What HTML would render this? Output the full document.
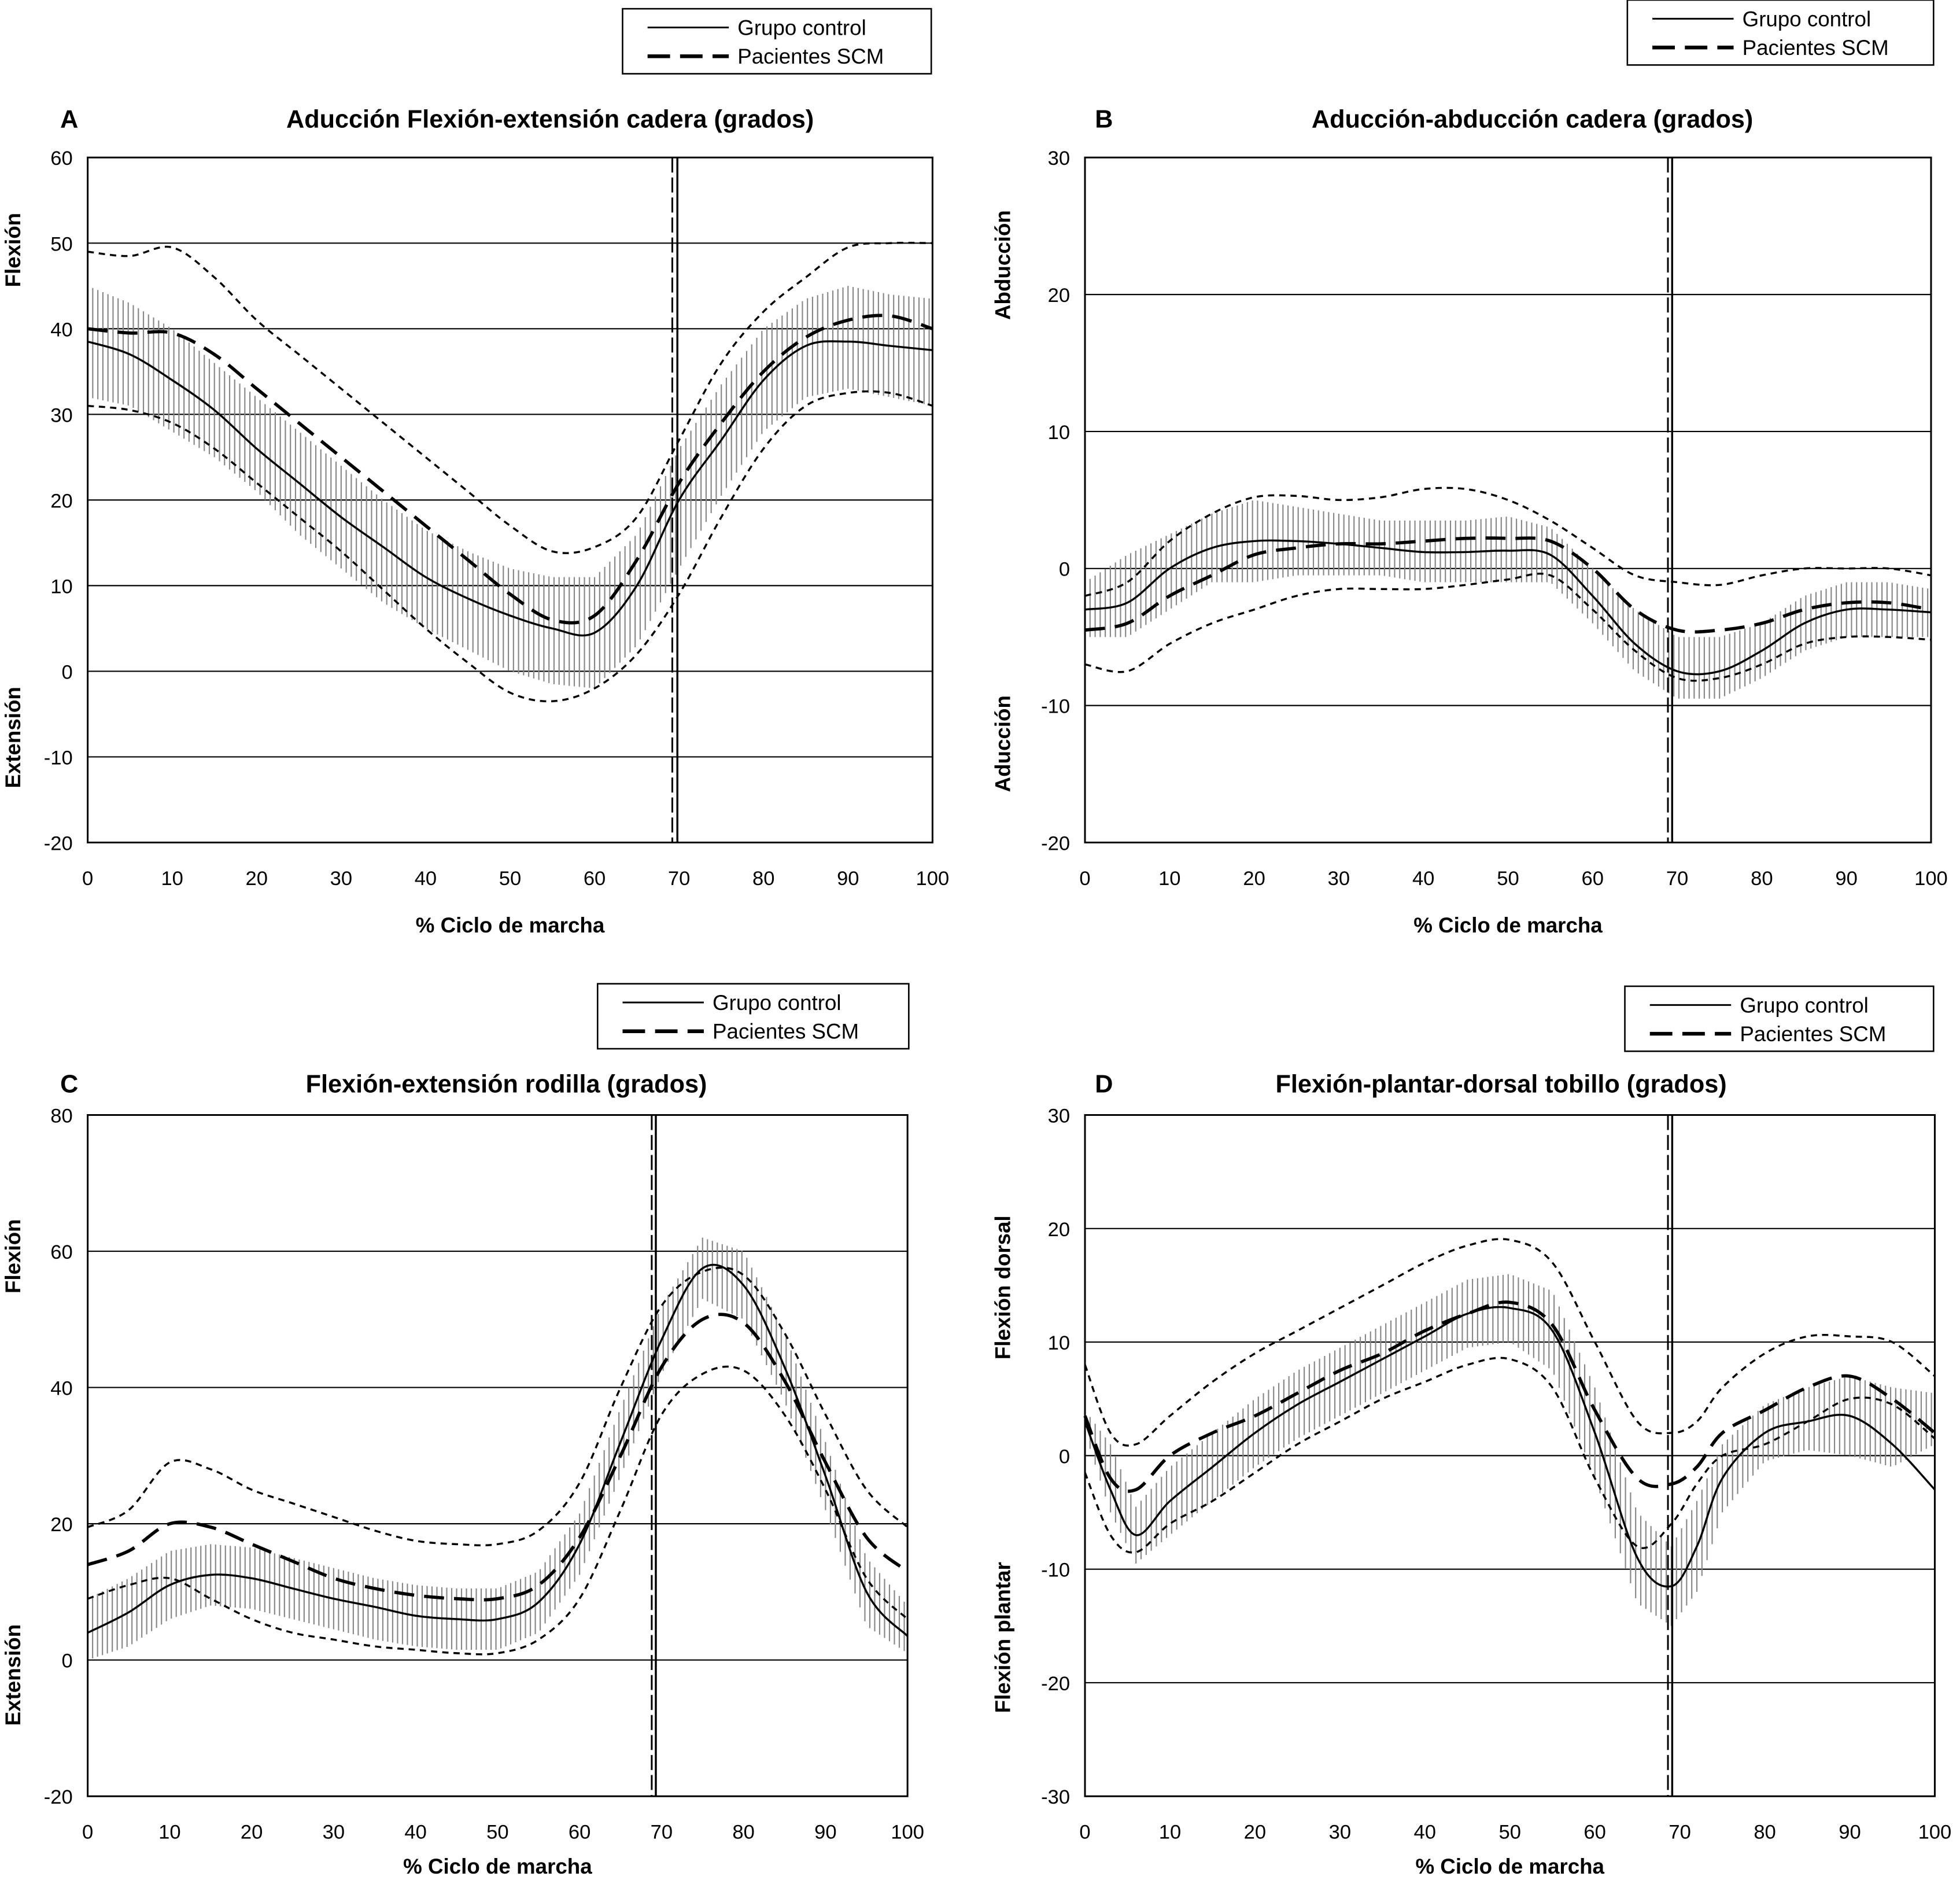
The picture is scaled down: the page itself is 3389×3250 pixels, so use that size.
<!DOCTYPE html>
<html><head><meta charset="utf-8"><style>
html,body{margin:0;padding:0;background:#fff}
svg{display:block}
text{font-family:"Liberation Sans",Arial,sans-serif;fill:#000}
</style></head><body>
<svg id="fig" xmlns="http://www.w3.org/2000/svg" width="3389" height="3250" viewBox="0 0 1568 1504"></svg>
<script>
// ---------- Panel A data ----------
const xsA = [0,5,10,15,20,25,30,35,40,45,50,55,60,65,70,75,80,85,90,95,100];
const ctrlA = [38.5,37,34,30.5,26,22,18,14.5,11,8.5,6.5,5,4.5,10,20,27,34,38,38.5,38,37.5];
const bandHiA = [45,43,40,36,32,28,24,20,16.5,14,12,11,11,16,26,33.5,40,43.5,45,44,43.5];
const bandLoA = [32,31,28,25,21,16,12,8,5,2.5,0,-1.5,-2,3,12,20.5,28,32,33,32,31];
const patA = [40,39.5,39.5,37,33,29,25,21,17,13,9,6,6.5,13,22,29,35,39,41,41.5,40];
const patHiA = [49,48.5,49.5,46,41,37,33,29,25,21,17,14,14.5,18,27,36,42,46,49.5,50,50];
const patLoA = [31,30.5,29,26,22,18,14,9.5,5,1,-2.5,-3.5,-2,2,9,18,26,31,32.5,32.5,31];
const yTicksA = [-20,-10,0,10,20,30,40,50,60];
// ---------- Panel B data ----------
const xsB = [0,5,10,15,20,25,30,35,40,45,50,55,60,65,70,75,80,85,90,95,100];
const ctrlB = [-3,-2.5,0,1.5,2,2,1.8,1.5,1.2,1.2,1.3,1,-2,-5.5,-7.5,-7.5,-6,-4,-3,-3,-3.2];
const bandHiB = [-1,1,2.5,4,5,4.5,4,3.5,3.5,3.5,3.8,3,0,-3,-5,-5,-4,-2,-1,-1,-1.5];
const bandLoB = [-5,-5,-3,-1,-1,-0.5,-0.5,-0.5,-1,-1,-1,-1,-4,-7.5,-9.5,-9.5,-8,-6,-5,-5,-5];
const patB = [-4.5,-4,-2,-0.5,1,1.5,1.8,1.8,2,2.2,2.2,2,0,-3,-4.5,-4.5,-4,-3,-2.5,-2.5,-3];
const patHiB = [-2,-1,2,4,5.2,5.3,5,5.2,5.8,5.8,5,3.5,1.5,-0.5,-1,-1.2,-0.5,0,0,0,-0.5];
const patLoB = [-7,-7.5,-5.5,-4,-3,-2,-1.5,-1.5,-1.5,-1.2,-0.8,-0.5,-3,-6,-8,-8,-7,-5.5,-5,-5,-5.2];
const yTicksB = [-20,-10,0,10,20,30];
// ---------- Panel C data ----------
const xsC = [0,5,10,15,20,25,30,35,40,45,50,55,60,65,70,75,80,85,90,95,100];
const ctrlC = [4,7,11,12.5,12,10.5,9,7.8,6.5,6,6,8.5,17,32,47,57.5,55,43,27,10,3.5];
const bandHiC = [9,12,16,17,16.5,15,13.5,12,11,10.5,10.5,13,21.5,37,52,62,60,48,32,15,8];
const bandLoC = [0,2,6,8,7.5,6,4.5,3,2,1.5,1.5,4,12.5,27,42,53,50,38,22,5,1];
const patC = [14,16,20,19.5,17,14.5,12,10.5,9.5,9,9,11,18,30,43,50,49.5,41,29,18,13];
const patHiC = [19.5,22,29,28,25,23,21,19,17.5,17,17,19,26,40,52,57,56.5,48,36,25,19.5];
const patLoC = [9,11,12,9,6,4,3,2,1.5,1,1,3,9,22,36,42,42.5,36,25,12,6];
const yTicksC = [-20,0,20,40,60,80];
// ---------- Panel D data ----------
const xsD = [0,3,6,10,15,20,25,30,35,40,45,50,55,60,65,69,72,75,80,85,90,95,100];
const ctrlD = [3,-3,-7,-4,-1,2,4.5,6.5,8.5,10.5,12.5,13,11,2,-9,-11.5,-8,-2,2,3,3.5,1,-3];
const bandHiD = [4,1,-4.5,-1,2,5,7.5,9.5,11.5,13.5,15.5,16,14.5,6,-5,-8,-4,1,4.5,6,7,6,5.5];
const bandLoD = [2,-5,-9.5,-7,-4,-1,1.5,3.5,5.5,7.5,9.5,10,7.5,-2,-13,-15,-12,-5,-0.5,0.5,0,-1,1];
const patD = [3.5,-2,-3,0,2,3.5,5.5,7.5,9,11,12.5,13.5,11.5,4,-2,-2.5,-1,2,4,6,7,5,2];
const patHiD = [8,2,1,3.5,6.5,9,11,13,15,17,18.5,19,17,10,3,2,3,6,9,10.5,10.5,10,7];
const patLoD = [-1.5,-7,-8.5,-6,-4,-1.5,1,3,5,6.5,8,8.5,6,-2,-8,-6,-2.5,0,1,3,5,4.5,1.5];
const yTicksD = [-30,-20,-10,0,10,20,30];
const xTicks = [0,10,20,30,40,50,60,70,80,90,100];

const NS = "http://www.w3.org/2000/svg";
const svg = document.getElementById('fig');
function mk(tag, attrs, parent, txt){
  const e = document.createElementNS(NS, tag);
  for (const k in attrs) e.setAttribute(k, attrs[k]);
  if (txt !== undefined) e.textContent = txt;
  (parent || svg).appendChild(e);
  return e;
}
function interp(xs, ys, x){
  for (let i=0;i<xs.length-1;i++){
    if (x>=xs[i] && x<=xs[i+1]){ const t=(x-xs[i])/(xs[i+1]-xs[i]); return ys[i]+t*(ys[i+1]-ys[i]); }
  }
  return ys[ys.length-1];
}
function smoothPath(pts){
  let d = `M${pts[0][0]},${pts[0][1]}`;
  for (let i=0;i<pts.length-1;i++){
    const p0=pts[Math.max(0,i-1)], p1=pts[i], p2=pts[i+1], p3=pts[Math.min(pts.length-1,i+2)];
    const c1=[p1[0]+(p2[0]-p0[0])/6, p1[1]+(p2[1]-p0[1])/6];
    const c2=[p2[0]-(p3[0]-p1[0])/6, p2[1]-(p3[1]-p1[1])/6];
    d += ` C${c1[0]},${c1[1]} ${c2[0]},${c2[1]} ${p2[0]},${p2[1]}`;
  }
  return d;
}
function panel(cfg){
  const g = mk('g', {});
  
  
  const {x0,x1,yTop,yBot,ymin,ymax} = cfg;
  const sx = v => x0 + (x1-x0)*v/100;
  const sy = v => yBot - (yBot-yTop)*(v-ymin)/(ymax-ymin);
  cfg.yTicks.forEach(t=>{
    const gl = mk('line',{x1:x0,x2:x1,y1:sy(t),y2:sy(t),stroke:'#000','stroke-width':1},g);
    
    
    const tl = mk('text',{x:x0-12,y:sy(t)+6,'text-anchor':'end','font-size':16},g,String(t));
    
    
  });
  xTicks.forEach(t=>{
    const tl = mk('text',{x:sx(t),y:yBot+cfg.tickOff,'text-anchor':'middle','font-size':16},g,String(t));
    
    
  });
  const hatch = mk('g',{stroke:'#888','stroke-width':1},g);
  
  
  for (let v=0; v<=100.001; v+=0.6){
    mk('line',{x1:sx(v),x2:sx(v),y1:sy(interp(cfg.xs,cfg.bandHi,v)),y2:sy(interp(cfg.xs,cfg.bandLo,v))},hatch);
  }
  const pts = arr => cfg.xs.map((x,i)=>[sx(x), sy(arr[i])]);
  const lines = [
    ['patient-sd-upper', cfg.patHi, '5,4', 1.6],
    ['patient-sd-lower', cfg.patLo, '5,4', 1.6],
    ['control-mean-line', cfg.ctrl, null, 1.6],
    ['patient-mean-line', cfg.pat, '16,8', 2.6],
  ];
  lines.forEach(([n,arr,dash,w])=>{
    const a = {d:smoothPath(pts(arr)),fill:'none',stroke:'#000','stroke-width':w};
    if (dash) a['stroke-dasharray']=dash;
    const p = mk('path',a,g);
    
    
  });
  const vs = mk('line',{x1:sx(cfg.vSolid),x2:sx(cfg.vSolid),y1:yTop,y2:yBot,stroke:'#000','stroke-width':1.6},g);
  
  
  const vd = mk('line',{x1:sx(cfg.vDash),x2:sx(cfg.vDash),y1:yTop,y2:yBot,stroke:'#000','stroke-width':1.4,'stroke-dasharray':'12,4'},g);
  
  
  const fr = mk('rect',{x:x0,y:yTop,width:x1-x0,height:yBot-yTop,fill:'none',stroke:'#000','stroke-width':1.4},g);
  
  
  const xl = mk('text',{x:(x0+x1)/2,y:yBot+cfg.titleOff,'text-anchor':'middle','font-size':17,'font-weight':'bold'},g,'% Ciclo de marcha');
  
  
  const pl = mk('text',{x:cfg.letterX,y:cfg.titleY,'font-size':20,'font-weight':'bold'},g,cfg.letter);
  
  
  const tt = mk('text',{x:cfg.titleX,y:cfg.titleY,'text-anchor':'middle','font-size':20,'font-weight':'bold'},g,cfg.title);
  
  
  cfg.sideLabels.forEach(([txt,y])=>{
    const s = mk('text',{x:0,y:0,'text-anchor':'middle','font-size':17,'font-weight':'bold',transform:`translate(${cfg.sideX},${y}) rotate(-90)`},g,txt);
    
    
  });
  const [lx,ly,lw,lh] = cfg.legend;
  const lg = mk('g',{},g);
  
  
  mk('rect',{x:lx,y:ly,width:lw,height:lh,fill:'#fff',stroke:'#000','stroke-width':1.2},lg);
  mk('line',{x1:lx+20,x2:lx+85,y1:ly+15,y2:ly+15,stroke:'#000','stroke-width':1.4},lg);
  const e1 = mk('text',{x:lx+92,y:ly+21,'font-size':17},lg,'Grupo control');
  
  
  mk('line',{x1:lx+20,x2:lx+85,y1:ly+38,y2:ly+38,stroke:'#000','stroke-width':3,'stroke-dasharray':'18,8'},lg);
  const e2 = mk('text',{x:lx+92,y:ly+44,'font-size':17},lg,'Pacientes SCM');
  
  
}
panel({name:'panel-a-hip-flexion',x0:70,x1:746,yTop:126,yBot:674,ymin:-20,ymax:60,yTicks:yTicksA,
  xs:xsA,ctrl:ctrlA,bandHi:bandHiA,bandLo:bandLoA,pat:patA,patHi:patHiA,patLo:patLoA,vSolid:69.8,vDash:69.2,
  letter:'A',letterX:48,titleX:440,titleY:102,title:'Aducción Flexión-extensión cadera (grados)',tickOff:34,titleOff:72,
  sideX:16,sideLabels:[['Flexión',200],['Extensión',590]],legend:[498,7,247,52]});
panel({name:'panel-b-hip-adduction',x0:868,x1:1545,yTop:126,yBot:674,ymin:-20,ymax:30,yTicks:yTicksB,
  xs:xsB,ctrl:ctrlB,bandHi:bandHiB,bandLo:bandLoB,pat:patB,patHi:patHiB,patLo:patLoB,vSolid:69.4,vDash:68.9,
  letter:'B',letterX:876,titleX:1226,titleY:102,title:'Aducción-abducción cadera (grados)',tickOff:34,titleOff:72,
  sideX:808,sideLabels:[['Abducción',212],['Aducción',595]],legend:[1302,0,245,52]});
panel({name:'panel-c-knee-flexion',x0:70,x1:726,yTop:892,yBot:1437,ymin:-20,ymax:80,yTicks:yTicksC,
  xs:xsC,ctrl:ctrlC,bandHi:bandHiC,bandLo:bandLoC,pat:patC,patHi:patHiC,patLo:patLoC,vSolid:69.3,vDash:68.8,
  letter:'C',letterX:48,titleX:405,titleY:874,title:'Flexión-extensión rodilla (grados)',tickOff:34,titleOff:62,
  sideX:16,sideLabels:[['Flexión',1005],['Extensión',1340]],legend:[478,787,249,52]});
panel({name:'panel-d-ankle-flexion',x0:868,x1:1548,yTop:892,yBot:1437,ymin:-30,ymax:30,yTicks:yTicksD,
  xs:xsD,ctrl:ctrlD,bandHi:bandHiD,bandLo:bandLoD,pat:patD,patHi:patHiD,patLo:patLoD,vSolid:69.1,vDash:68.6,
  letter:'D',letterX:876,titleX:1201,titleY:874,title:'Flexión-plantar-dorsal tobillo (grados)',tickOff:34,titleOff:62,
  sideX:808,sideLabels:[['Flexión dorsal',1030],['Flexión plantar',1310]],legend:[1300,789,247,52]});
</script>
</body></html>
